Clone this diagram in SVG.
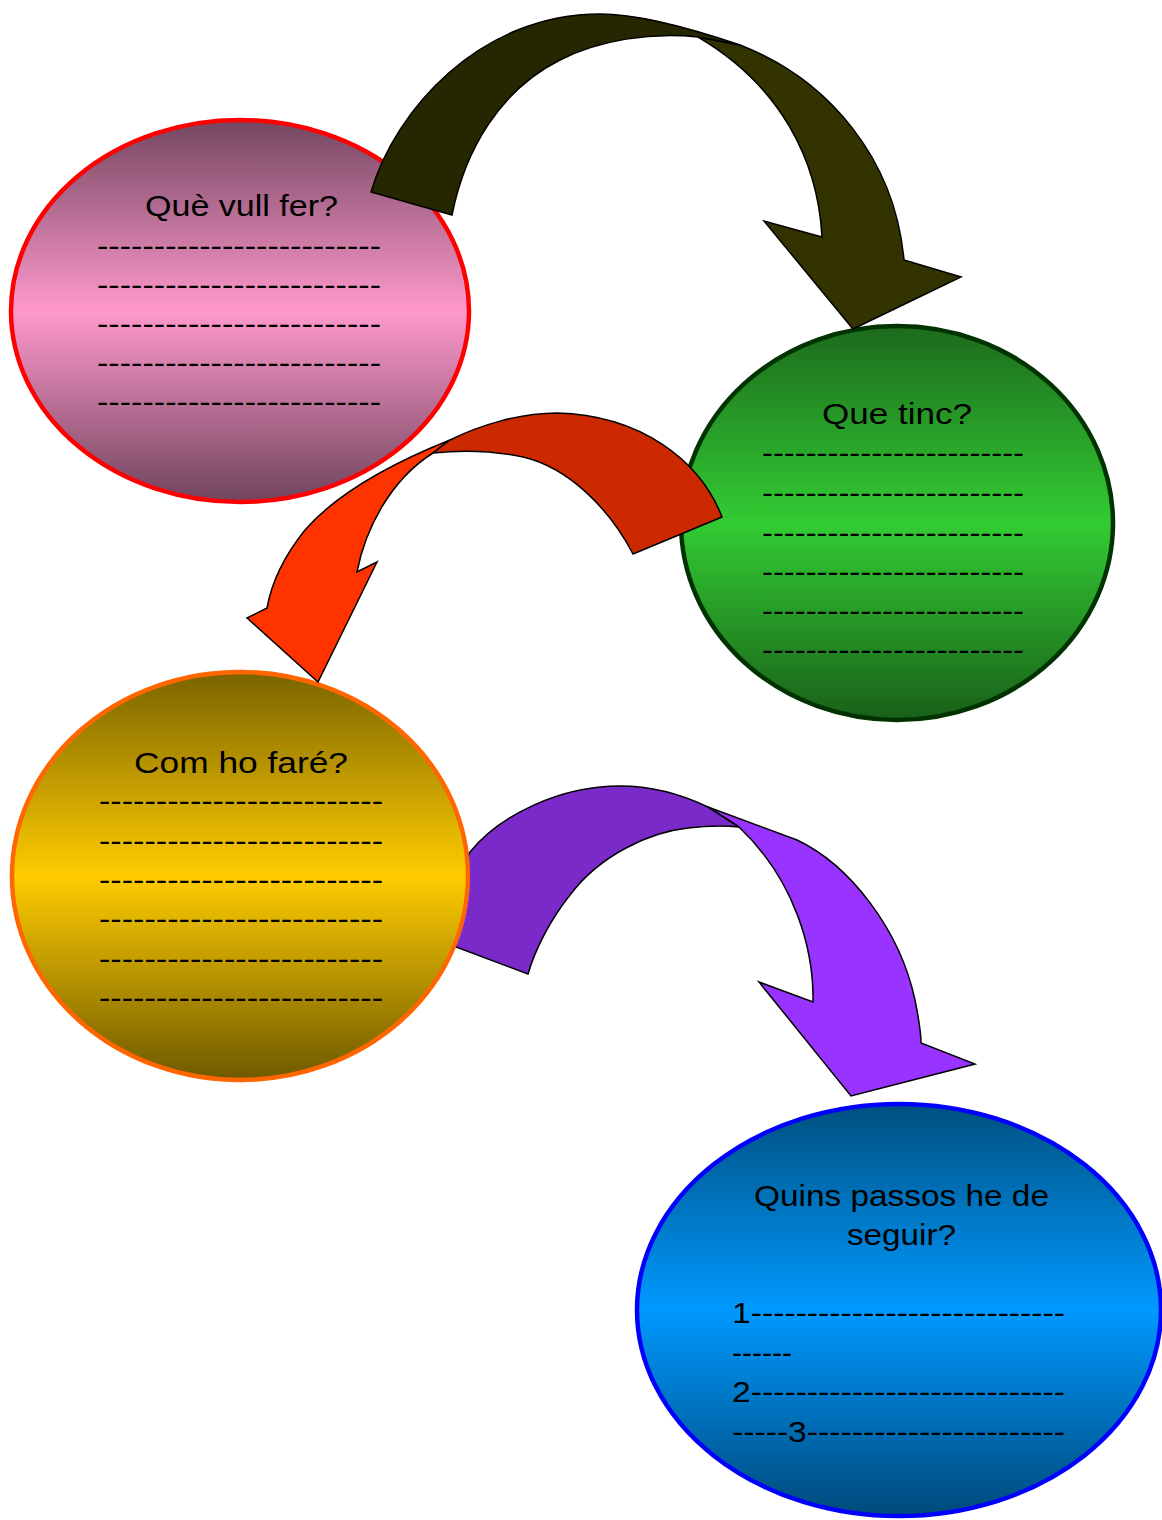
<svg xmlns="http://www.w3.org/2000/svg" width="1162" height="1520" viewBox="0 0 1162 1520">
<defs>
<linearGradient id="gPink" x1="0" y1="0" x2="0" y2="1">
<stop offset="0" stop-color="#734660"/><stop offset="0.5" stop-color="#ff99cc"/><stop offset="1" stop-color="#70445d"/>
</linearGradient>
<linearGradient id="gGreen" x1="0" y1="0" x2="0" y2="1">
<stop offset="0" stop-color="#1c6a1c"/><stop offset="0.5" stop-color="#33cc33"/><stop offset="1" stop-color="#196019"/>
</linearGradient>
<linearGradient id="gYellow" x1="0" y1="0" x2="0" y2="1">
<stop offset="0" stop-color="#7a6300"/><stop offset="0.5" stop-color="#ffcc00"/><stop offset="1" stop-color="#6e5900"/>
</linearGradient>
<linearGradient id="gBlue" x1="0" y1="0" x2="0" y2="1">
<stop offset="0" stop-color="#00507f"/><stop offset="0.5" stop-color="#0099ff"/><stop offset="1" stop-color="#004a7a"/>
</linearGradient>
<clipPath id="outsideYellow">
<path clip-rule="evenodd" d="M0,0 H1162 V1520 H0 Z M10,876 a230,206 0 1,0 460,0 a230,206 0 1,0 -460,0 Z"/>
</clipPath>
<style>
.t{font-family:"Liberation Sans",Arial,sans-serif;font-size:30px;fill:#000}
.arr{stroke:#000;stroke-width:1.5;stroke-linejoin:miter}
.node{stroke-width:4.5}
</style>
</defs>
<rect width="1162" height="1520" fill="#fff"/>

<g id="node-que-vull-fer">
<ellipse class="node" cx="240" cy="311" rx="229" ry="191" fill="url(#gPink)" stroke="#ff0000"/>
<text class="t" x="145" y="216" textLength="193" lengthAdjust="spacingAndGlyphs">Què vull fer?</text>
<text class="t" x="97" y="256" textLength="284" lengthAdjust="spacingAndGlyphs">-------------------------</text>
<text class="t" x="97" y="295" textLength="284" lengthAdjust="spacingAndGlyphs">-------------------------</text>
<text class="t" x="97" y="334" textLength="284" lengthAdjust="spacingAndGlyphs">-------------------------</text>
<text class="t" x="97" y="373" textLength="284" lengthAdjust="spacingAndGlyphs">-------------------------</text>
<text class="t" x="97" y="412" textLength="284" lengthAdjust="spacingAndGlyphs">-------------------------</text>
</g>

<g id="node-que-tinc">
<ellipse class="node" cx="897" cy="523" rx="216" ry="197" fill="url(#gGreen)" stroke="#003300"/>
<text class="t" x="822" y="424" textLength="150" lengthAdjust="spacingAndGlyphs">Que tinc?</text>
<text class="t" x="762" y="463" textLength="262" lengthAdjust="spacingAndGlyphs">------------------------</text>
<text class="t" x="762" y="503" textLength="262" lengthAdjust="spacingAndGlyphs">------------------------</text>
<text class="t" x="762" y="543" textLength="262" lengthAdjust="spacingAndGlyphs">------------------------</text>
<text class="t" x="762" y="582" textLength="262" lengthAdjust="spacingAndGlyphs">------------------------</text>
<text class="t" x="762" y="621" textLength="262" lengthAdjust="spacingAndGlyphs">------------------------</text>
<text class="t" x="762" y="660" textLength="262" lengthAdjust="spacingAndGlyphs">------------------------</text>
</g>

<g id="node-com-ho-fare">
<ellipse class="node" cx="240" cy="876" rx="228" ry="204" fill="url(#gYellow)" stroke="#ff6600"/>
<text class="t" x="134" y="773" textLength="214" lengthAdjust="spacingAndGlyphs">Com ho faré?</text>
<text class="t" x="99" y="811" textLength="284" lengthAdjust="spacingAndGlyphs">-------------------------</text>
<text class="t" x="99" y="851" textLength="284" lengthAdjust="spacingAndGlyphs">-------------------------</text>
<text class="t" x="99" y="890" textLength="284" lengthAdjust="spacingAndGlyphs">-------------------------</text>
<text class="t" x="99" y="929" textLength="284" lengthAdjust="spacingAndGlyphs">-------------------------</text>
<text class="t" x="99" y="969" textLength="284" lengthAdjust="spacingAndGlyphs">-------------------------</text>
<text class="t" x="99" y="1008" textLength="284" lengthAdjust="spacingAndGlyphs">-------------------------</text>
</g>

<g id="node-quins-passos">
<ellipse class="node" cx="899" cy="1310" rx="262" ry="206" fill="url(#gBlue)" stroke="#0000ff"/>
<text class="t" x="754" y="1206" textLength="295" lengthAdjust="spacingAndGlyphs">Quins passos he de</text>
<text class="t" x="847" y="1245" textLength="109" lengthAdjust="spacingAndGlyphs">seguir?</text>
<text class="t" x="732" y="1323" textLength="333" lengthAdjust="spacingAndGlyphs">1----------------------------</text>
<text class="t" x="732" y="1363" textLength="60" lengthAdjust="spacingAndGlyphs">------</text>
<text class="t" x="732" y="1402" textLength="333" lengthAdjust="spacingAndGlyphs">2----------------------------</text>
<text class="t" x="732" y="1442" textLength="333" lengthAdjust="spacingAndGlyphs">-----3-----------------------</text>
</g>

<g id="connectors">
<g id="arrow-1">
<path class="arr" fill="#333300" d="M698,37 L740,45 C830,80 895,160 904,260 L961,277 L853,329 L764,221 L822,237 C818,160 780,85 698,37 Z"/>
<path class="arr" fill="#262600" d="M371,192 C395,110 480,14 600,14 C640,14 690,28 740,45 L698,37 C650,32 600,40 560,60 C500,90 465,150 452,215 Z"/>
</g>
<g id="arrow-2">
<path class="arr" fill="#ff3300" d="M450,440 C400,460 340,490 305,530 C285,555 272,580 267,608 L247,618 L318,682 L377,562 L357,572 C365,530 390,480 433,453 Z"/>
<path class="arr" fill="#cc2900" d="M722,517 C700,460 640,415 557,413 C520,413 480,425 450,440 L433,453 C460,450 490,450 523,457 C570,468 610,510 633,554 Z"/>
</g>
<g id="arrow-3" clip-path="url(#outsideYellow)">
<path class="arr" fill="#9933ff" d="M708,807 L797,840 C850,865 900,930 915,1000 C919,1020 921,1035 921,1043 L975,1064 L851,1096 L759,982 L813,1002 C814,950 795,880 739,827 Z"/>
<path class="arr" fill="#7a2ac8" d="M440,941 C445,910 455,875 470,852 C500,815 560,786 620,786 C655,786 685,796 708,807 L739,827 C720,825 705,826 688,828 C650,832 600,855 570,895 C550,920 535,950 528,974 Z"/>
</g>
</g>
</svg>
